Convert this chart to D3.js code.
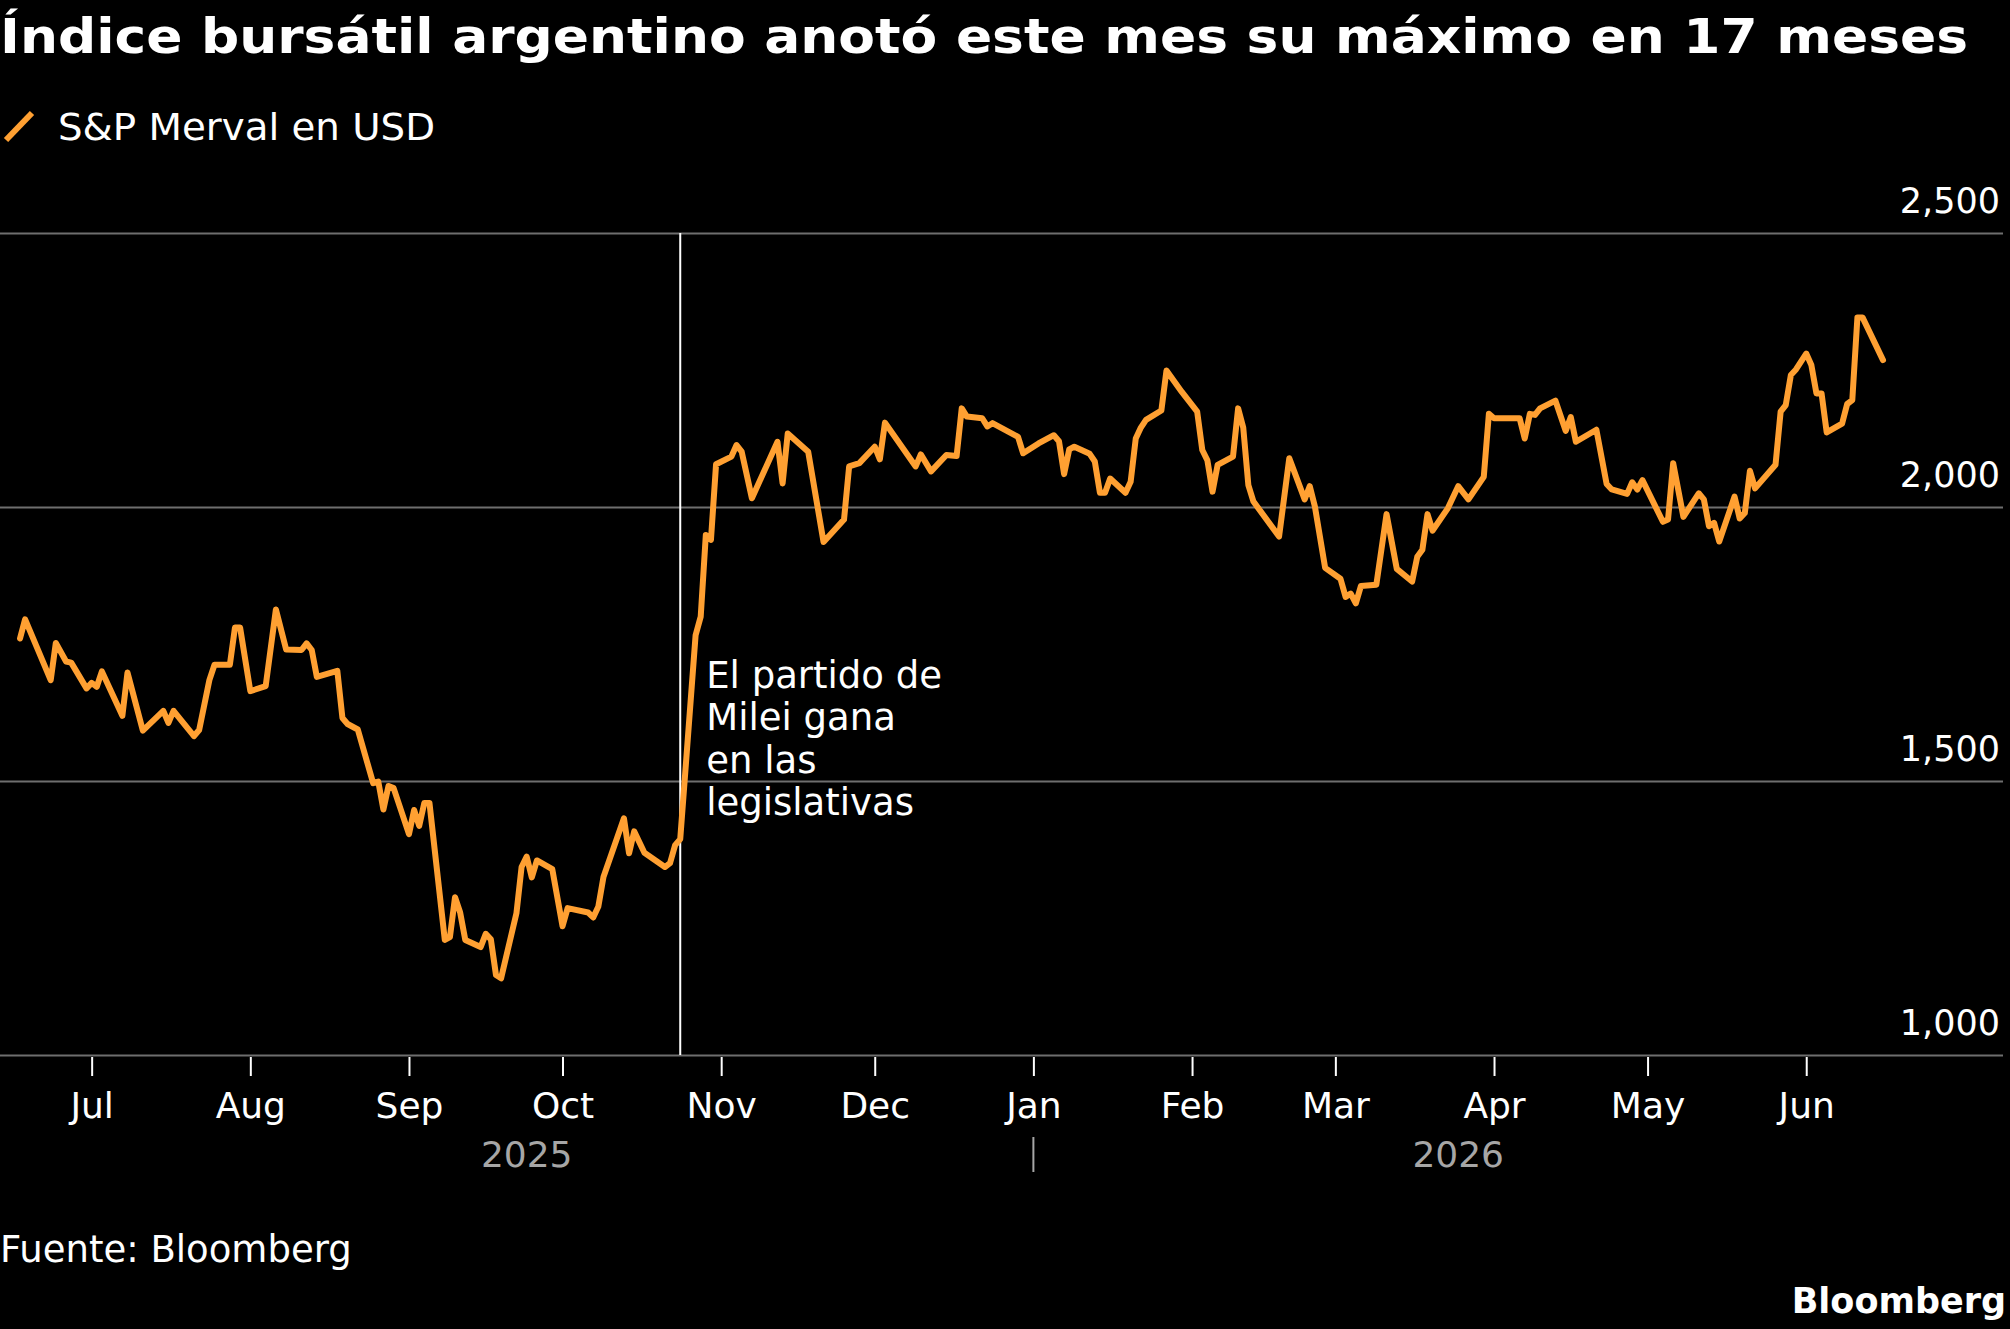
<!DOCTYPE html>
<html>
<head>
<meta charset="utf-8">
<script src="https://cdn.jsdelivr.net/npm/d3@7"></script>
<style>
  body { margin: 0; background: #000; }
  svg { display: block; font-family: "DejaVu Sans", sans-serif; }
</style>
</head>
<body>
<script>
// S&P Merval en USD
var dates = [
  "2025-06-17","2025-06-18","2025-06-23","2025-06-24","2025-06-26","2025-06-27","2025-06-30",
  "2025-07-01","2025-07-02","2025-07-03","2025-07-07","2025-07-08","2025-07-11","2025-07-15",
  "2025-07-16","2025-07-17","2025-07-21","2025-07-22","2025-07-24","2025-07-25","2025-07-28",
  "2025-07-29","2025-07-30","2025-08-01","2025-08-04","2025-08-06","2025-08-08","2025-08-11",
  "2025-08-12","2025-08-13","2025-08-14","2025-08-18","2025-08-19","2025-08-20","2025-08-22",
  "2025-08-25","2025-08-26","2025-08-27","2025-08-28","2025-08-29","2025-09-01","2025-09-02",
  "2025-09-03","2025-09-04","2025-09-05","2025-09-08","2025-09-09","2025-09-10","2025-09-11",
  "2025-09-12","2025-09-15","2025-09-16","2025-09-17","2025-09-18","2025-09-19","2025-09-22",
  "2025-09-23","2025-09-24","2025-09-25","2025-09-26","2025-09-29","2025-10-01","2025-10-02",
  "2025-10-06","2025-10-07","2025-10-08","2025-10-09","2025-10-13","2025-10-14","2025-10-15",
  "2025-10-17","2025-10-21","2025-10-22","2025-10-23","2025-10-24","2025-10-27","2025-10-28",
  "2025-10-29","2025-10-30","2025-10-31","2025-11-03","2025-11-04","2025-11-05","2025-11-07",
  "2025-11-12","2025-11-13","2025-11-14","2025-11-18","2025-11-21","2025-11-25","2025-11-26",
  "2025-11-28","2025-12-01","2025-12-02","2025-12-03","2025-12-09","2025-12-10","2025-12-12",
  "2025-12-15","2025-12-17","2025-12-18","2025-12-19","2025-12-22","2025-12-23","2025-12-24",
  "2025-12-29","2025-12-30","2026-01-02","2026-01-05","2026-01-06","2026-01-07","2026-01-08",
  "2026-01-09","2026-01-12","2026-01-13","2026-01-14","2026-01-15","2026-01-16","2026-01-19",
  "2026-01-20","2026-01-21","2026-01-22","2026-01-23","2026-01-26","2026-01-27","2026-01-30",
  "2026-02-02","2026-02-03","2026-02-04","2026-02-05","2026-02-06","2026-02-09","2026-02-10",
  "2026-02-11","2026-02-12","2026-02-13","2026-02-18","2026-02-20","2026-02-23","2026-02-24",
  "2026-02-25","2026-02-27","2026-03-02","2026-03-03","2026-03-04","2026-03-05","2026-03-06",
  "2026-03-09","2026-03-11","2026-03-13","2026-03-16","2026-03-17","2026-03-18","2026-03-19",
  "2026-03-20","2026-03-23","2026-03-25","2026-03-27","2026-03-30","2026-03-31","2026-04-01",
  "2026-04-06","2026-04-07","2026-04-08","2026-04-09","2026-04-10","2026-04-13","2026-04-15",
  "2026-04-16","2026-04-17","2026-04-21","2026-04-23","2026-04-24","2026-04-27","2026-04-28",
  "2026-04-29","2026-04-30","2026-05-04","2026-05-05","2026-05-06","2026-05-08","2026-05-11",
  "2026-05-12","2026-05-13","2026-05-14","2026-05-15","2026-05-18","2026-05-19","2026-05-20",
  "2026-05-21","2026-05-22","2026-05-26","2026-05-27","2026-05-28","2026-05-29","2026-05-30",
  "2026-06-01","2026-06-02","2026-06-03","2026-06-04","2026-06-05","2026-06-08","2026-06-09",
  "2026-06-10","2026-06-11","2026-06-12","2026-06-16"
];
var merval = [
  1760,1795,1684,1752,1718,1716,1669,
  1679,1672,1700,1619,1698,1592,1628,
  1606,1628,1582,1593,1684,1712,1712,
  1780,1780,1664,1673,1813,1740,1739,
  1751,1739,1690,1701,1615,1604,1594,
  1496,1499,1448,1491,1487,1403,1447,
  1418,1460,1460,1210,1215,1288,1260,
  1210,1197,1221,1211,1146,1140,1259,
  1343,1362,1324,1355,1339,1235,1268,
  1260,1251,1271,1325,1432,1368,1408,
  1369,1343,1350,1383,1394,1766,1800,
  1949,1940,2078,2092,2113,2101,2016,
  2119,2043,2134,2101,1936,1977,2074,
  2080,2110,2087,2154,2074,2096,2065,
  2095,2093,2180,2165,2162,2147,2153,
  2128,2098,2116,2131,2120,2060,2105,
  2110,2097,2083,2026,2026,2052,2026,
  2046,2125,2145,2159,2176,2249,2210,
  2174,2104,2085,2028,2077,2092,2180,
  2145,2040,2010,1946,2089,2014,2038,
  2001,1889,1869,1836,1842,1824,1856,
  1858,1987,1887,1864,1909,1922,1987,
  1957,1998,2038,2014,2055,2170,2162,
  2162,2125,2170,2168,2180,2194,2139,
  2164,2119,2141,2042,2032,2024,2045,
  2032,2049,1973,1977,2080,1982,2025,
  2014,1965,1971,1937,2019,1979,1989,
  2066,2034,2077,2174,2186,2241,2251,
  2280,2259,2207,2207,2136,2152,2188,
  2195,2346,2346,2268
];
var yTicks = [1000, 1500, 2000, 2500];
var years = [{label: "2025", from: "2025-06-17", to: "2026-01-01"},
             {label: "2026", from: "2026-01-01", to: "2026-06-16"}];
var eventDate = "2025-10-24";
var eventText = ["El partido de", "Milei gana", "en las", "legislativas"];

var W = 2010, H = 1329;
var parse = d3.timeParse("%Y-%m-%d");
var data = dates.map(function(d, i) { return {date: parse(d), value: merval[i]}; });

var svg = d3.select("body").append("svg")
    .attr("width", W)
    .attr("height", H);

svg.append("rect").attr("width", W).attr("height", H).attr("fill", "#000");

// scales
var x = d3.scaleTime()
    .domain([parse("2025-06-17"), parse("2026-06-16")])
    .range([20, 1883]);
var y = d3.scaleLinear()
    .domain([1000, 2500])
    .range([1055, 233]);

// title
svg.append("text")
    .attr("x", 0).attr("y", 53)
    .attr("fill", "#fff")
    .style("font-size", "48px")
    .style("font-weight", "bold")
    .attr("textLength", 1968)
    .attr("lengthAdjust", "spacingAndGlyphs")
    .text("Índice bursátil argentino anotó este mes su máximo en 17 meses");

// legend
svg.append("line")
    .attr("x1", 6).attr("y1", 140).attr("x2", 32).attr("y2", 113)
    .attr("stroke", "#ffa032").attr("stroke-width", 6);
svg.append("text")
    .attr("x", 58).attr("y", 140)
    .attr("fill", "#fff")
    .style("font-size", "38px")
    .attr("textLength", 377)
    .attr("lengthAdjust", "spacingAndGlyphs")
    .text("S&P Merval en USD");

// y axis: gridlines with labels above, right aligned
var yAxis = d3.axisLeft(y).tickValues(yTicks).tickSize(2003).tickFormat(d3.format(","));
var gy = svg.append("g")
    .attr("transform", "translate(2003,0)")
    .call(yAxis);
gy.select(".domain").remove();
gy.selectAll(".tick line").attr("stroke", "#6e6e6e").attr("stroke-width", 2);
gy.selectAll(".tick text")
    .attr("x", -3).attr("y", -21).attr("dy", 0)
    .attr("text-anchor", "end")
    .attr("fill", "#fff")
    .style("font-size", "35px")
    .style("font-family", "DejaVu Sans, sans-serif");

// x axis: month ticks
var xAxis = d3.axisBottom(x)
    .ticks(d3.timeMonth.every(1))
    .tickFormat(d3.timeFormat("%b"))
    .tickSize(19);
var gx = svg.append("g")
    .attr("transform", "translate(0,1057)")
    .call(xAxis);
gx.select(".domain").remove();
gx.selectAll(".tick line").attr("stroke", "#fff").attr("stroke-width", 2);
gx.selectAll(".tick text")
    .attr("y", 61).attr("dy", 0)
    .attr("fill", "#fff")
    .style("font-size", "36px")
    .style("font-family", "DejaVu Sans, sans-serif");

// year labels and separator
svg.selectAll(".year")
    .data(years)
    .enter()
    .append("text")
    .attr("class", "year")
    .attr("x", function(d) { return (x(parse(d.from)) + x(parse(d.to))) / 2; })
    .attr("y", 1167)
    .attr("text-anchor", "middle")
    .attr("fill", "#a6a6a6")
    .style("font-size", "36px")
    .text(function(d) { return d.label; });
svg.append("line")
    .attr("x1", x(parse("2026-01-01"))).attr("x2", x(parse("2026-01-01")))
    .attr("y1", 1137).attr("y2", 1172)
    .attr("stroke", "#a6a6a6").attr("stroke-width", 2);

// event marker
var ex = x(parse(eventDate));
svg.append("line")
    .attr("x1", ex).attr("x2", ex)
    .attr("y1", y(2500)).attr("y2", y(1000))
    .attr("stroke", "#fff").attr("stroke-width", 2);
svg.selectAll(".annot")
    .data(eventText)
    .enter()
    .append("text")
    .attr("class", "annot")
    .attr("x", ex + 26)
    .attr("y", function(d, i) { return 688 + i * 42.3; })
    .attr("fill", "#fff")
    .style("font-size", "37px")
    .text(function(d) { return d; });

// the line
var line = d3.line()
    .x(function(d) { return x(d.date); })
    .y(function(d) { return y(d.value); });
svg.append("path")
    .datum(data)
    .attr("d", line)
    .attr("fill", "none")
    .attr("stroke", "#ffa032")
    .attr("stroke-width", 6)
    .attr("stroke-linejoin", "round")
    .attr("stroke-linecap", "round");

// footer
svg.append("text")
    .attr("x", 0).attr("y", 1262)
    .attr("fill", "#fff")
    .style("font-size", "37px")
    .text("Fuente: Bloomberg");
svg.append("text")
    .attr("x", 2006).attr("y", 1313)
    .attr("text-anchor", "end")
    .attr("fill", "#fff")
    .style("font-size", "35px")
    .style("font-weight", "bold")
    .text("Bloomberg");
</script>
</body>
</html>
